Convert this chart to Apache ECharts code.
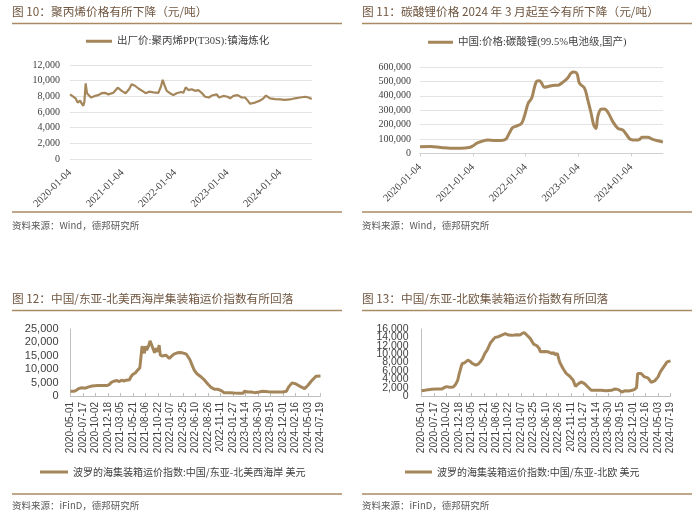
<!DOCTYPE html>
<html><head><meta charset="utf-8">
<script src="https://cdn.jsdelivr.net/npm/echarts@6/dist/echarts.min.js"></script>
<style>html,body{margin:0;padding:0;background:#fff}#c{width:700px;height:522px}</style>
</head><body><div id="c"></div>
<script>
// ---------- data ----------
const yearTicks = ['2020-01-04','2021-01-04','2022-01-04','2023-01-04','2024-01-04'];

const ppDates = ['2020-01-04','2020-01-27','2020-02-12','2020-02-26','2020-03-14','2020-03-25','2020-04-06','2020-04-13','2020-04-22','2020-05-01','2020-05-11','2020-05-29','2020-06-26','2020-07-19','2020-08-11','2020-09-03','2020-09-27','2020-11-01','2020-12-01','2020-12-29','2021-01-25','2021-02-18','2021-03-08','2021-03-31','2021-04-24','2021-05-21','2021-06-14','2021-07-07','2021-08-06','2021-09-10','2021-09-28','2021-10-10','2021-10-22','2021-11-07','2021-11-30','2021-12-23','2022-01-15','2022-02-15','2022-03-03','2022-03-19','2022-04-07','2022-04-30','2022-05-23','2022-06-15','2022-07-08','2022-08-01','2022-08-28','2022-09-16','2022-10-21','2022-11-06','2022-12-06','2023-01-05','2023-01-22','2023-02-14','2023-03-16','2023-04-13','2023-05-06','2023-05-25','2023-06-10','2023-07-15','2023-08-18','2023-09-11','2023-09-29','2023-10-27','2023-12-01','2024-01-05','2024-02-08','2024-03-14','2024-04-18','2024-05-23','2024-06-27','2024-07-20','2024-08-12'];
const ppValues = [8250,7950,7750,7200,7450,7100,6800,7300,9650,8400,8150,7850,8050,8150,8400,8450,8250,8450,9100,8700,8400,8900,9550,9350,9000,8700,8400,8600,8500,8450,9250,10100,9450,8700,8400,8150,8400,8550,8450,9150,8800,8900,8700,8800,8450,7950,7850,8100,8250,7850,8050,7950,7750,8050,8150,7850,7850,7450,7050,7200,7450,7750,8100,7750,7650,7600,7550,7600,7750,7850,7950,7850,7650];

const liDates = ['2020-01-04','2020-03-18','2020-05-26','2020-08-04','2020-10-12','2020-12-09','2021-01-01','2021-02-04','2021-03-11','2021-04-15','2021-05-31','2021-07-16','2021-08-20','2021-09-12','2021-10-05','2021-11-09','2021-12-06','2021-12-25','2022-01-21','2022-02-14','2022-03-04','2022-03-20','2022-04-08','2022-04-24','2022-05-12','2022-06-09','2022-07-09','2022-08-17','2022-09-16','2022-10-21','2022-11-13','2022-12-06','2022-12-25','2023-01-10','2023-02-14','2023-03-09','2023-04-01','2023-04-19','2023-05-05','2023-05-17','2023-06-09','2023-07-02','2023-07-30','2023-08-29','2023-10-03','2023-11-06','2023-11-29','2023-12-29','2024-02-07','2024-03-01','2024-03-17','2024-04-27','2024-06-01','2024-07-06','2024-08-09'];
const liValues = [46500,49000,42000,37000,37000,42000,51000,74000,86000,93000,91000,91000,100000,140000,179000,193000,209000,256000,349000,384000,453000,500000,505000,488000,460000,465000,472000,474000,493000,523000,558000,565000,553000,488000,453000,372000,279000,198000,174000,256000,307000,309000,279000,221000,174000,163000,135000,98000,93000,98000,112000,112000,98000,88000,79000];

const weekLabels = ['2020-05-01','2020-07-17','2020-10-02','2020-12-18','2021-03-05','2021-05-21','2021-08-06','2021-10-22','2022-01-07','2022-03-25','2022-06-10','2022-08-26','2022-11-11','2023-01-27','2023-04-14','2023-06-30','2023-09-15','2023-12-01','2024-02-16','2024-05-03','2024-07-19'];

const naWeeks = [0,3,5,7,10,13,16,19,24,28,32,34,36,38,41,43,45,47,49,52,53,55,57,59,61,62,63,65,66,67,69,70,71,72,74,75,77,78,79,81,84,87,89,91,94,97,100,102,105,107,109,111,115,118,121,124,127,130,133,135,140,144,149,152,153,156,159,162,166,169,174,178,183,187,190,192,195,198,202,206,209,212,216,217,220];
const naValues = [1750,1750,2100,2750,3100,2900,3400,3750,3900,3900,3900,4250,5100,5500,5750,5400,5900,5600,5900,6100,7100,8100,8600,9600,10500,14600,18600,15900,18600,17100,19000,20600,19900,18400,16100,17750,16500,19000,15250,14900,15250,14000,14900,15600,16100,16250,15900,15600,13600,11500,9600,8400,7100,5900,4400,3100,2500,2500,1900,1250,1250,1100,1000,1000,1750,1500,1500,1250,1500,1750,1600,1500,1500,1500,1750,3400,4900,4600,3600,2750,4000,5600,7400,8100,7500];

const euWeeks = [0,3,6,9,13,18,20,22,25,28,30,32,33,35,36,38,41,43,45,48,50,52,54,56,58,59,61,63,65,68,71,74,77,80,84,87,89,91,93,96,99,102,104,105,109,112,115,117,118,120,122,125,128,131,134,136,138,141,144,147,150,154,159,163,168,171,174,177,180,183,186,188,190,191,194,197,200,203,206,209,211,214,217,220];
const euValues = [1280,1360,1520,1600,1680,1680,2000,2240,2080,2160,2720,3760,4960,6960,7760,7920,8560,8240,7760,7360,7600,8160,8960,10160,10960,11120,12720,13360,14000,14160,14560,14880,14560,14480,14640,14560,14960,15120,14560,13760,12400,12000,11360,10560,10640,10560,10160,10320,9840,10160,8160,6560,5360,4720,3760,2320,2800,3360,2960,2160,1360,1360,1360,1280,1360,1680,1520,960,1280,1200,1360,1520,2000,5360,5360,4560,4320,3280,3600,4560,5760,6960,8160,8400];
const euTicksA = [0,4000,8000,12000,16000];
const euTicksB = [2000,6000,10000,14000];

const ppName = '出厂价:聚丙烯PP(T30S):镇海炼化';
const liName = '中国:价格:碳酸锂(99.5%电池级,国产)';
const naName = '波罗的海集装箱运价指数:中国/东亚-北美西海岸 美元';
const euName = '波罗的海集装箱运价指数:中国/东亚-北欧 美元';

// ---------- helpers ----------
const pd = s => { const [y,m,d] = s.split('-').map(Number); return new Date(y, m-1, d).getTime(); };
const pad = n => (n < 10 ? '0' : '') + n;
const fmtDate = v => { const d = new Date(v); return d.getFullYear() + '-' + pad(d.getMonth()+1) + '-' + pad(d.getDate()); };
const fmtNum = v => String(v).replace(/\B(?=(\d{3})+(?!\d))/g, ',');

const SERIF = "'Liberation Serif','Noto Sans CJK SC'";
const SANS = "'Liberation Sans','Noto Sans CJK SC'";
const CJK = "'Noto Sans CJK SC'";
const LINE = '#a4865a';
const TITLE_C = '#6f5640';
const RULE = '#a98a64';

const chart = echarts.init(document.getElementById('c'), null, {renderer:'canvas'});

const titleStyle = {fontFamily: CJK, fontSize: 11.7, color: TITLE_C, fontWeight: 'normal'};
const srcStyle = {fontFamily: CJK, fontSize: 9.5, color: '#595959', fontWeight: 'normal'};

const rule = (x1, y, x2) => ({type:'line', silent:true, shape:{x1:x1, y1:y, x2:x2, y2:y}, style:{stroke:RULE, lineWidth:1.5}});

const dateX = (gi, maxDate) => ({
  type:'value', gridIndex:gi, min: pd('2020-01-04'), max: pd(maxDate), scale:true,
  splitLine:{show:false},
  axisLabel:{customValues: yearTicks.map(pd), formatter: fmtDate, rotate:45, fontFamily:SERIF, fontSize:10.5, color:'#404040', margin:12, hideOverlap:false}
});

const weekX = (gi) => ({
  type:'value', gridIndex:gi, min:0, max:220, interval:11,
  splitLine:{show:false},
  axisLine:{show:true, lineStyle:{color:'#bfbfbf', width:1}},
  axisTick:{show:true, inside:true, length:3, lineStyle:{color:'#bfbfbf'}},
  axisLabel:{formatter: v => weekLabels[Math.round(v/11)], rotate:90, fontFamily:SANS, fontSize:10, color:'#404040', margin:6, hideOverlap:false, showMinLabel:true, showMaxLabel:true}
});

const euLabelStyle = {formatter:fmtNum, fontFamily:SANS, fontSize:10.5, color:'#404040', margin:13, hideOverlap:false, showMinLabel:true, showMaxLabel:true};

const option = {
  animation:false,
  title: [
    {text:'图 10：聚丙烯价格有所下降（元/吨）', left:12, top:6, padding:0, textStyle:titleStyle},
    {text:'图 11：碳酸锂价格 2024 年 3 月起至今有所下降（元/吨）', left:362, top:6, padding:0, textStyle:titleStyle},
    {text:'图 12：中国/东亚-北美西海岸集装箱运价指数有所回落', left:12, top:292.5, padding:0, textStyle:titleStyle},
    {text:'图 13：中国/东亚-北欧集装箱运价指数有所回落', left:362, top:292.5, padding:0, textStyle:titleStyle},
    {text:'资料来源：Wind，德邦研究所', left:12, top:221, padding:0, textStyle:srcStyle},
    {text:'资料来源：Wind，德邦研究所', left:362, top:221, padding:0, textStyle:srcStyle},
    {text:'资料来源：iFinD，德邦研究所', left:12, top:501, padding:0, textStyle:srcStyle},
    {text:'资料来源：iFinD，德邦研究所', left:362, top:501, padding:0, textStyle:srcStyle}
  ],
  graphic: [
    rule(12, 23.5, 342), rule(362, 23.5, 692),
    rule(12, 212, 342), rule(362, 212, 692),
    rule(12, 310.5, 342), rule(362, 310.5, 692),
    rule(12, 494, 342), rule(362, 494, 692)
  ],
  legend: [
    {data:[ppName], left:86, top:36, padding:0, icon:'rect', itemWidth:26, itemHeight:3, textStyle:{fontFamily:SERIF, fontSize:10.5, color:'#404040'}},
    {data:[liName], left:428, top:37, padding:0, icon:'rect', itemWidth:25, itemHeight:3, textStyle:{fontFamily:SERIF, fontSize:10.5, color:'#404040'}},
    {data:[naName], left:40, top:467, padding:0, icon:'rect', itemWidth:28, itemHeight:3, textStyle:{fontFamily:CJK, fontSize:10, color:'#404040'}},
    {data:[euName], left:405, top:467, padding:0, icon:'rect', itemWidth:27, itemHeight:3, textStyle:{fontFamily:CJK, fontSize:10, color:'#404040'}}
  ],
  grid: [
    {left:70, top:65, width:242, height:94},
    {left:420, top:67, width:243, height:86.5},
    {left:70.5, top:329, width:250, height:67},
    {left:421.5, top:329, width:249, height:67}
  ],
  xAxis: [
    Object.assign(dateX(0, '2024-08-14'), {axisLine:{show:false}, axisTick:{show:false}}),
    Object.assign(dateX(1, '2024-08-10'), {axisLine:{show:true, onZero:false, lineStyle:{color:'#d0d0d0'}}, axisTick:{show:true, length:3, lineStyle:{color:'#d0d0d0'}, customValues: yearTicks.map(pd)}}),
    weekX(2),
    weekX(3)
  ],
  yAxis: [
    {type:'value', gridIndex:0, min:0, max:12000, interval:2000, axisLine:{show:false}, axisTick:{show:false},
     splitLine:{lineStyle:{color:'#e3e3e3'}}, axisLabel:{formatter:fmtNum, fontFamily:SERIF, fontSize:10, color:'#404040', margin:10}},
    {type:'value', gridIndex:1, min:0, max:600000, interval:100000, axisLine:{show:false}, axisTick:{show:false},
     splitLine:{lineStyle:{color:'#e3e3e3'}}, axisLabel:{formatter:fmtNum, fontFamily:SERIF, fontSize:10, color:'#404040', margin:9}},
    {type:'value', gridIndex:2, min:0, max:25000, interval:5000, axisLine:{show:true, lineStyle:{color:'#bfbfbf'}}, axisTick:{show:false},
     splitLine:{show:false}, axisLabel:{formatter:fmtNum, fontFamily:SANS, fontSize:11, color:'#404040', margin:12}},
    {type:'value', gridIndex:3, min:0, max:16000, axisLine:{show:true, lineStyle:{color:'#bfbfbf'}}, axisTick:{show:false},
     splitLine:{show:false}, axisLabel:Object.assign({customValues:euTicksA}, euLabelStyle)},
    {type:'value', gridIndex:3, position:'left', min:0, max:16000, axisLine:{show:false}, axisTick:{show:false},
     splitLine:{show:false}, axisLabel:Object.assign({customValues:euTicksB}, euLabelStyle)}
  ],
  series: [
    {name:ppName, type:'line', xAxisIndex:0, yAxisIndex:0, showSymbol:false, color:LINE, lineStyle:{width:2.2},
     data: ppDates.map((d,i)=>[pd(d), ppValues[i]])},
    {name:liName, type:'line', xAxisIndex:1, yAxisIndex:1, showSymbol:false, smooth:0.35, color:LINE, lineStyle:{width:3},
     data: liDates.map((d,i)=>[pd(d), liValues[i]])},
    {name:naName, type:'line', xAxisIndex:2, yAxisIndex:2, showSymbol:false, color:LINE, lineStyle:{width:3},
     data: naWeeks.map((w,i)=>[w, naValues[i]])},
    {name:euName, type:'line', xAxisIndex:3, yAxisIndex:3, showSymbol:false, color:LINE, lineStyle:{width:3},
     data: euWeeks.map((w,i)=>[w, euValues[i]])}
  ]
};
chart.setOption(option);
</script></body></html>
